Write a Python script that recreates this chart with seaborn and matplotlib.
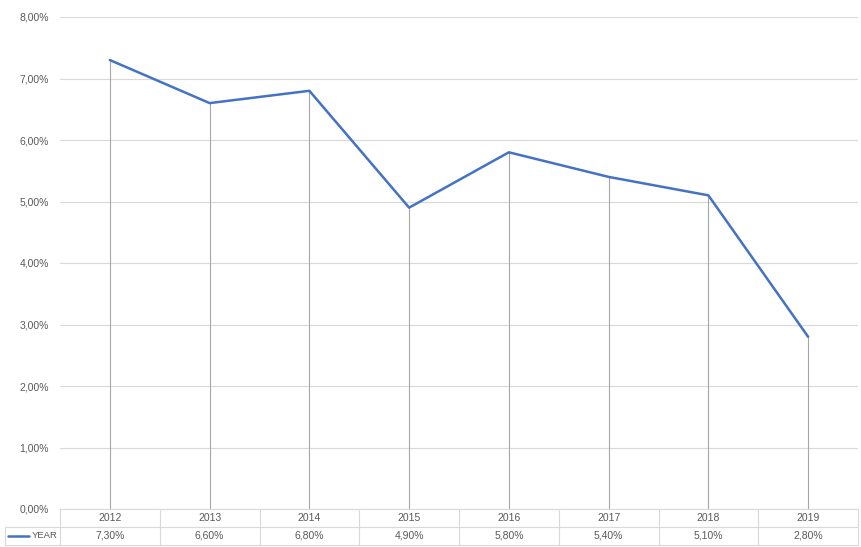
import pandas as pd
import numpy as np
import matplotlib.pyplot as plt
import seaborn as sns
from matplotlib.transforms import blended_transform_factory

# ------------------------------
# Data
# ------------------------------
years = ["2012", "2013", "2014", "2015", "2016", "2017", "2018", "2019"]
rates = [7.30, 6.60, 6.80, 4.90, 5.80, 5.40, 5.10, 2.80]
series_name = "YEAR"

df = pd.DataFrame({"year": years, "rate": rates})
df["pos"] = np.arange(len(years))

sns.set_style("white")
plt.rcParams["font.family"] = ["Liberation Sans", "DejaVu Sans"]

grid_col = "#d9d9d9"
text_col = "#595959"
line_col = "#4472c4"

fig = plt.figure(figsize=(8.61, 5.47), dpi=100)
ax = fig.add_axes([60 / 861, 1 - 509 / 547, 798 / 861, 492 / 547])

# drop lines from each point down to the axis
ax.vlines(df["pos"], 0, df["rate"], color="#a6a6a6", linewidth=0.8, zorder=2)
sns.lineplot(data=df, x="pos", y="rate", color=line_col, linewidth=1.8, ax=ax, zorder=3)

ax.set_xlim(-0.5, len(years) - 0.5)
ax.set_ylim(0, 8)
ax.set_yticks(np.arange(0, 9, 1))
ax.set_yticklabels([f"{v:.2f}%".replace(".", ",") for v in np.arange(0, 9, 1)],
                   color=text_col, fontsize=7.5)
ax.set_xticks([])
ax.tick_params(axis="y", length=0, pad=8)
ax.grid(axis="y", color=grid_col, linewidth=0.8)
ax.set_axisbelow(True)
ax.set_xlabel("")
ax.set_ylabel("")
for s in ["top", "right", "left"]:
    ax.spines[s].set_visible(False)
ax.spines["bottom"].set_color(grid_col)
ax.spines["bottom"].set_linewidth(0.8)

# ------------------------------
# Data table under the chart
# ------------------------------
trans = blended_transform_factory(ax.transData, ax.transAxes)
row_h = 18 / 492
n = len(years)
table_left = (5 - 60) / 798 * n - 0.5  # data x of the legend column edge

for k in range(n + 1):
    ax.plot([k - 0.5, k - 0.5], [0, -2 * row_h], transform=trans, color=grid_col,
            linewidth=0.8, clip_on=False)
ax.plot([table_left, table_left], [-row_h, -2 * row_h], transform=trans, color=grid_col,
        linewidth=0.8, clip_on=False)
for yy in [-row_h, -2 * row_h]:
    ax.plot([table_left, n - 0.5], [yy, yy], transform=trans, color=grid_col,
            linewidth=0.8, clip_on=False)

for i, (yr, r) in enumerate(zip(years, rates)):
    ax.text(i, -0.5 * row_h, yr, transform=trans, ha="center", va="center",
            color=text_col, fontsize=7.5)
    ax.text(i, -1.5 * row_h, f"{r:.2f}%".replace(".", ","), transform=trans,
            ha="center", va="center", color=text_col, fontsize=7.5)

# legend key in the table's first column
ax.plot([table_left + 0.03, table_left + 0.24], [-1.5 * row_h, -1.5 * row_h],
        transform=trans, color=line_col, linewidth=1.8, clip_on=False)
ax.text(-0.52, -1.5 * row_h, series_name, transform=trans, ha="right", va="center",
        color=text_col, fontsize=6.8)

plt.savefig("out.png", dpi=100)
